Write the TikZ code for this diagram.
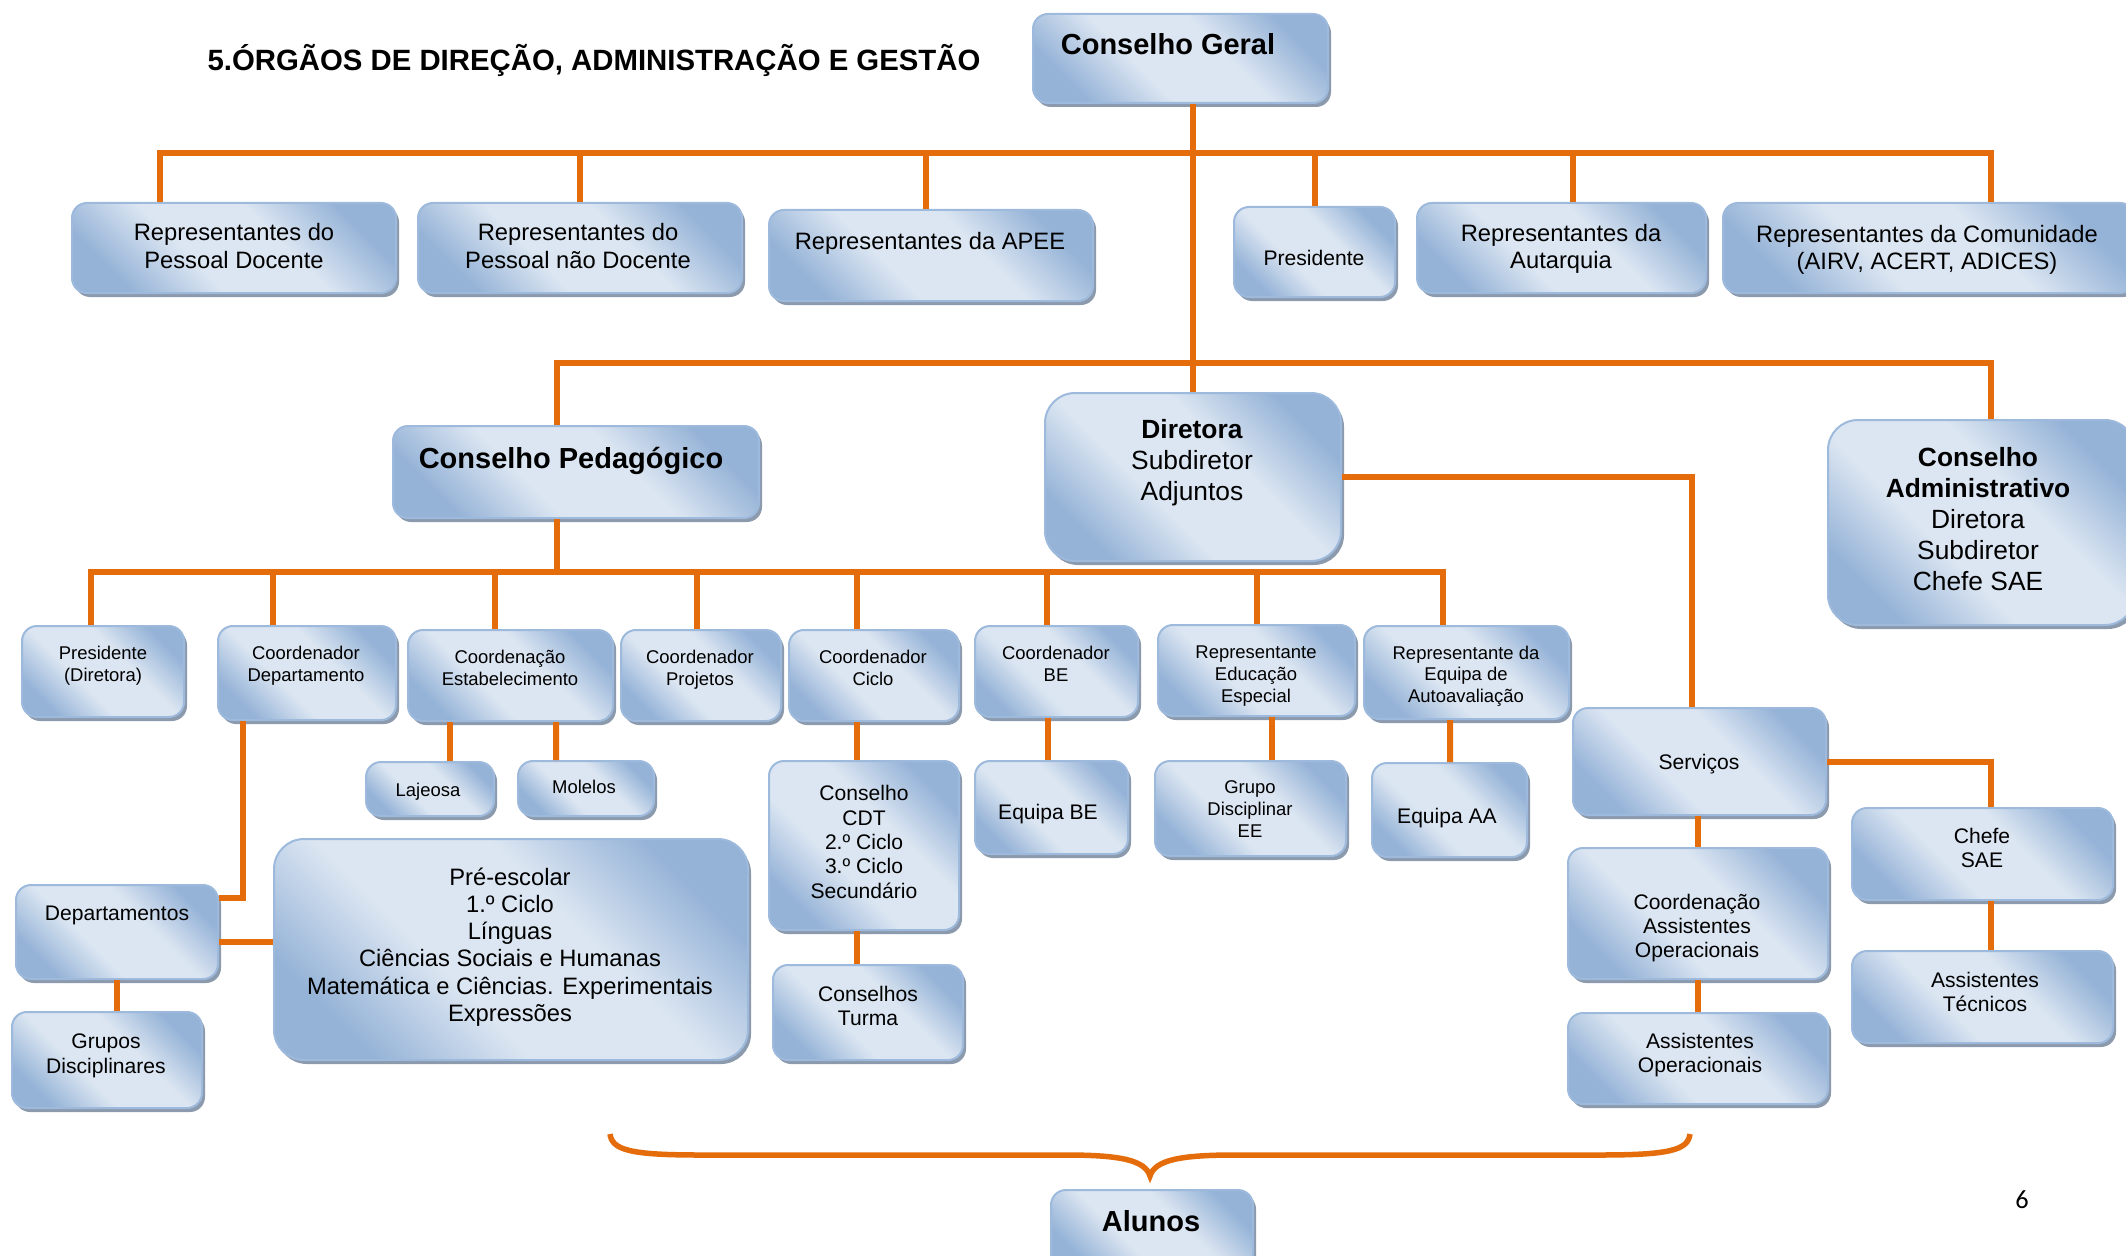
\documentclass[tikz,border=0pt]{standalone}
\usepackage{fontspec}
\setmainfont{Liberation Sans}
\newfontfamily\pagefont{Carlito}
\usetikzlibrary{calc,shadows}
\definecolor{linkorange}{HTML}{E46C0A}
\definecolor{boxdark}{HTML}{95B3D7}
\definecolor{boxlight}{HTML}{DCE6F2}
\definecolor{boxline}{HTML}{9DB9DC}
\definecolor{boxshadow}{HTML}{8C9AAD}
\pgfdeclarehorizontalshading{boxshade}{100bp}{color(0bp)=(boxdark); color(25bp)=(boxdark);
    color(41bp)=(boxlight); color(59bp)=(boxlight); color(75bp)=(boxdark); color(100bp)=(boxdark)}

\begin{document}
\begin{tikzpicture}[
                x=0.2mm, y=-0.2mm,
                box/.style={rectangle, rounded corners=3mm, draw=boxline, line width=0.4mm,
                        shade, shading=boxshade, shading angle=45,
                        drop shadow={shadow xshift=0.6mm, shadow yshift=-0.8mm, fill=boxshadow, opacity=1},
                        inner sep=0pt},
                big/.style={rounded corners=6mm},
                sz/.style 2 args={minimum width=#1*0.2mm, minimum height=#2*0.2mm},
                txt/.style={align=center, inner sep=0pt, font=\fontsize{13.5}{15.5}\selectfont},
                txtS/.style={txt, font=\fontsize{10.5}{12.3}\selectfont},
                txtM/.style={txt, font=\fontsize{12}{13.9}\selectfont},
                txtL/.style={txt, font=\fontsize{15}{17.7}\selectfont},
                head/.style={txt, font=\bfseries\fontsize{16.5}{19}\selectfont},
                link/.style={draw=linkorange, line width=1.2mm}
            ]
            \useasboundingbox (0,0) rectangle (2126,1256);

            \node[head, font=\bfseries\fontsize{16.7}{19}\selectfont] (title) at (594,60) {5.ÓRGÃOS DE DIREÇÃO, ADMINISTRAÇÃO E GESTÃO};

            % conselho geral and its members
            \node[box, sz={295}{89}] (cg) at (1180.5,58.5) {};
            \node[box, sz={324}{90}] (rpd) at (234,248) {};
            \node[box, sz={324}{90}] (rpnd) at (580,248) {};
            \node[box, sz={324}{91}] (apee) at (931,255.5) {};
            \node[box, sz={161}{90}] (pres) at (1314.5,252) {};
            \node[box, sz={289}{90}] (aut) at (1561.5,248) {};
            \node[box, sz={412}{90}] (com) at (1929,248) {};

            % direction level
            \node[box, sz={366}{92}] (cp) at (576,472) {};
            \node[box, big, sz={296}{168}] (dir) at (1193,477) {};
            \node[box, big, sz={307}{205}] (ca) at (1981.5,522.5) {};

            % conselho pedagogico members
            \node[box, sz={162}{91}] (pdir) at (103,671.5) {};
            \node[box, sz={178}{94}] (cdep) at (307,673) {};
            \node[box, sz={205}{91}] (cest) at (510.5,675.5) {};
            \node[box, sz={160}{91}] (cproj) at (701,675.5) {};
            \node[box, sz={170}{91}] (cciclo) at (874,675.5) {};
            \node[box, sz={163}{91}] (cbe) at (1056.5,671.5) {};
            \node[box, sz={197}{91}] (ree) at (1256.5,670.5) {};
            \node[box, sz={205}{93}] (raa) at (1466.5,672.5) {};

            \node[box, sz={128}{54}] (laj) at (430,789) {};
            \node[box, sz={136}{55}] (mol) at (586,788.5) {};
            \node[box, sz={202}{94}] (dep) at (117,932) {};
            \node[box, big, sz={474}{221}] (pre) at (511,949.5) {};
            \node[box, sz={190}{96}] (gd) at (107,1060) {};
            \node[box, sz={190}{169}] (cdt) at (864,845.5) {};
            \node[box, sz={190}{95}] (ct) at (868,1012.5) {};
            \node[box, sz={153}{93}] (ebe) at (1051.5,807.5) {};
            \node[box, sz={191}{95}] (gdee) at (1250.5,808.5) {};
            \node[box, sz={155}{94}] (eaa) at (1449.5,810) {};

            % servicos
            \node[box, sz={253}{107}] (srv) at (1699.5,761.5) {};
            \node[box, sz={260}{131}] (cao) at (1698,913.5) {};
            \node[box, sz={260}{91}] (ao) at (1698,1058.5) {};
            \node[box, sz={261}{92}] (chefe) at (1982.5,854) {};
            \node[box, sz={261}{92}] (atec) at (1982.5,997) {};

            \node[box, sz={202}{80}] (alu) at (1152,1230) {};

            % texts
            \node[head] (cg-t) at (1168,44) {Conselho Geral};
            \node[txt] (rpd-t) at (234,246) {Representantes do\\Pessoal Docente};
            \node[txt] (rpnd-t) at (578,246) {Representantes do\\Pessoal não Docente};
            \node[txt] (apee-t) at (930,243) {Representantes da APEE};
            \node[txtM] (pres-t) at (1314,258) {Presidente};
            \node[txt] (aut-t) at (1561,249) {Representantes da\\Autarquia};
            \node[txt] (com-t) at (1927,250) {Representantes da Comunidade\\(AIRV, ACERT, ADICES)};
            \node[head] (cp-t) at (571,461) {Conselho Pedagógico};
            \node[txtL] (dir-t) at (1192,463) {\textbf{Diretora}\\Subdiretor\\Adjuntos};
            \node[txtL] (ca-t) at (1978,519) {\textbf{Conselho}\\\textbf{Administrativo}\\Diretora\\Subdiretor\\Chefe SAE};
            \node[txtS] (pdir-t) at (103,666) {Presidente\\(Diretora)};
            \node[txtS] (cdep-t) at (306,666) {Coordenador\\Departamento};
            \node[txtS] (cest-t) at (510,668) {Coordenação\\Estabelecimento};
            \node[txtS] (cproj-t) at (700,670) {Coordenador\\Projetos};
            \node[txtS] (cciclo-t) at (873,668) {Coordenador\\Ciclo};
            \node[txtS] (cbe-t) at (1056,664) {Coordenador\\BE};
            \node[txtS] (ree-t) at (1256,676) {Representante\\Educação\\Especial};
            \node[txtS] (raa-t) at (1466,676) {Representante da\\Equipa de\\Autoavaliação};
            \node[txtS] (laj-t) at (428,792) {Lajeosa};
            \node[txtS] (mol-t) at (584,787) {Molelos};
            \node[txtM] (dep-t) at (117,915) {Departamentos};
            \node[txt] (pre-t) at (510,947) {Pré-escolar\\1.º Ciclo\\Línguas\\Ciências Sociais e Humanas\\Matemática e Ciências. Experimentais\\Expressões};
            \node[txtM] (gd-t) at (106,1056) {Grupos\\Disciplinares};
            \node[txtM] (cdt-t) at (864,842) {Conselho\\CDT\\2.º Ciclo\\3.º Ciclo\\Secundário};
            \node[txtM] (ct-t) at (868,1006) {Conselhos\\Turma};
            \node[txtM] (ebe-t) at (1048,814) {Equipa BE};
            \node[txtS] (gdee-t) at (1250,809) {Grupo\\Disciplinar\\EE};
            \node[txtM] (eaa-t) at (1447,818) {Equipa AA};
            \node[txtM] (srv-t) at (1699,764) {Serviços};
            \node[txtM] (cao-t) at (1697,928) {Coordenação\\Assistentes\\Operacionais};
            \node[txtM] (ao-t) at (1700,1055) {Assistentes\\Operacionais};
            \node[txtM] (chefe-t) at (1982,848) {Chefe\\SAE};
            \node[txtM] (atec-t) at (1985,992) {Assistentes\\Técnicos};
            \node[head] (alu-t) at (1151,1221) {Alunos};
            \node[font=\pagefont\fontsize{15}{18}\selectfont, inner sep=0pt] (pg) at (2022,1200) {6};

            % connectors
            \coordinate (b1) at (1193,153);
            \coordinate (b2) at (1193,363);
            \coordinate (b3) at (557,572);

            \draw[link] (cg.south -| dir.north) -- (dir.north);
            \draw[link] ($(rpd.north)+(-74,0)$) |- (b1);
            \draw[link] (rpnd.north) |- (b1);
            \draw[link] ($(apee.north)+(-5,0)$) |- (b1);
            \draw[link] (pres.north) |- (b1);
            \draw[link] ($(aut.north)+(11.5,0)$) |- (b1);
            \draw[link] ($(com.north)+(62,0)$) |- (b1);
            \draw[link] ($(cp.north)+(-19,0)$) |- (b2);
            \draw[link] ($(ca.north)+(9.5,0)$) |- (b2);

            \draw[link] ($(cp.south)+(-19,0)$) -- (b3);
            \draw[link] ($(pdir.north)+(-12,0)$) |- (b3);
            \draw[link] ($(cdep.north)+(-34,0)$) |- (b3);
            \draw[link] ($(cest.north)+(-15.5,0)$) |- (b3);
            \draw[link] ($(cproj.north)+(-4,0)$) |- (b3);
            \draw[link] ($(cciclo.north)+(-17,0)$) |- (b3);
            \draw[link] ($(cbe.north)+(-9.5,0)$) |- (b3);
            \draw[link] (ree.north) |- (b3);
            \draw[link] ($(raa.north)+(-23.5,0)$) |- (b3);

            \draw[link] ($(cdep.south)+(-64,0)$) |- ($(dep.east)+(0,-34)$);
            \draw[link] ($(dep.east)+(0,10)$) -- ($(pre.west)+(0,-7.5)$);
            \draw[link] (dep.south) -- (dep.south |- gd.north);
            \draw[link] ($(cest.south)+(-60.5,0)$) -- ($(laj.north)+(20,0)$);
            \draw[link] ($(cest.south)+(45.5,0)$) -- ($(mol.north)+(-30,0)$);
            \draw[link] ($(cciclo.south)+(-17,0)$) -- ($(cdt.north)+(-7,0)$);
            \draw[link] ($(cdt.south)+(-7,0)$) -- ($(ct.north)+(-11,0)$);
            \draw[link] ($(cbe.south)+(-8.5,0)$) -- ($(ebe.north)+(-3.5,0)$);
            \draw[link] ($(ree.south)+(15.5,0)$) -- ($(gdee.north)+(21.5,0)$);
            \draw[link] ($(raa.south)+(-16.5,0)$) -- ($(eaa.north)+(0.5,0)$);

            \draw[link] (dir.east) -| ($(srv.north)+(-7.5,0)$);
            \draw[link] (cao.north |- srv.south) -- (cao.north);
            \draw[link] (cao.south) -- (ao.north);
            \draw[link] (srv.east) -| ($(chefe.north)+(8.5,0)$);
            \draw[link] ($(chefe.south)+(8.5,0)$) -- ($(atec.north)+(8.5,0)$);

            % brace over the alunos
            \draw[link, line width=1.1mm] (610,1134) .. controls (612,1150) and (630,1155) .. (700,1155)
                -- (1065,1155) .. controls (1120,1155) and (1145,1160) .. (1150,1176)
                .. controls (1155,1160) and (1180,1155) .. (1235,1155)
                -- (1600,1155) .. controls (1670,1155) and (1688,1150) .. (1690,1134);

        \end{tikzpicture}
\end{document}
